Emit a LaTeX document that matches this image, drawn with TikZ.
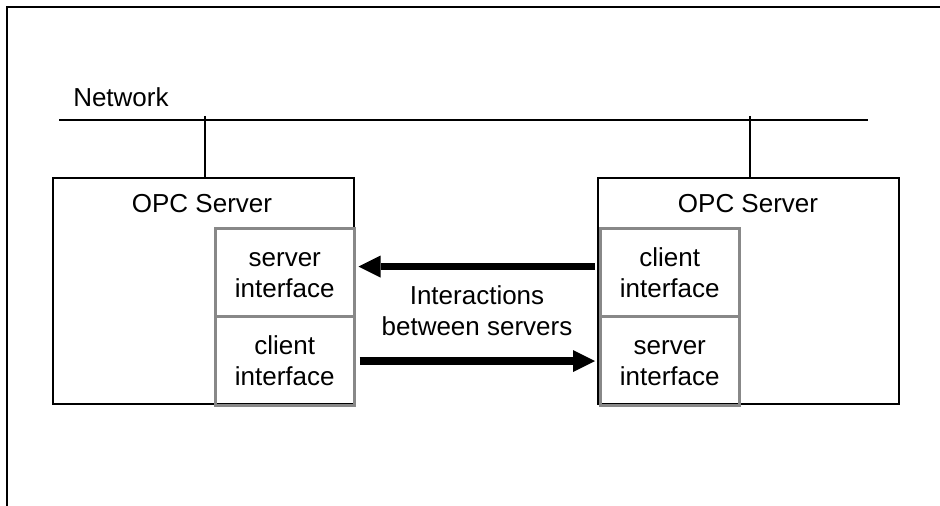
\documentclass[tikz,border=0pt]{standalone}
\usepackage{fontspec}
\setmainfont{Liberation Sans}
\usetikzlibrary{arrows.meta,calc}
\definecolor{ifgray}{RGB}{136,136,136}
\begin{document}
\begin{tikzpicture}[x=0.75pt,y=-0.75pt,
  frame/.style={line width=1.8pt},
  net/.style={line width=1.6pt},
  srv/.style={draw, line width=1.7pt, minimum width=225.75pt, minimum height=169.5pt, anchor=north west, inner sep=0pt},
  iface/.style={draw=ifgray, line width=1.9pt, minimum width=104.25pt, minimum height=66.5pt, anchor=north west, align=center, inner sep=0pt, font=\fontsize{19.5}{23.3}\selectfont},
  lbl/.style={font=\fontsize{19.5}{23.3}\selectfont, inner sep=0pt},
  bigarrow/.style={line width=5.5pt, -{Triangle[length=16.5pt,width=16.5pt,line width=0pt]}}
]
\useasboundingbox (0,0) rectangle (940,506);
% cropped outer frame
\coordinate (frBL) at (7,506);
\coordinate (frTL) at (7,7);
\coordinate (frTR) at (940,7);
\draw[frame] (frBL) -- (frTL) -- (frTR);

% network
\node[lbl, anchor=base west] (nettext) at (73,107) {Network};
\coordinate (netL) at (59,120);
\coordinate (netR) at (868,120);
\draw[net] (netL) -- (netR);

% servers
\node[srv] (srvL) at (52,177) {};
\node[srv] (srvR) at (597,177) {};
\coordinate (tapL) at (205,116);
\coordinate (tapR) at (750,116);
\draw[net] (tapL) -- (tapL |- srvL.north);
\draw[net] (tapR) -- (tapR |- srvR.north);
\node[lbl, anchor=base] (opcL) at (202,213) {OPC Server};
\node[lbl, anchor=base] (opcR) at (748,213) {OPC Server};

% interfaces
\node[iface] (lsi) at (214,227) {\vphantom{l}server\\interface};
\node[iface] (lci) at (214,315.5) {client\\interface};
\node[iface] (rci) at (599,227) {client\\interface};
\node[iface] (rsi) at (599,315.5) {\vphantom{l}server\\interface};

% interactions
\draw[bigarrow] ($(rci.west)+(-4,-6)$) -- ($(lsi.east)+(3,-6)$);
\draw[bigarrow] ($(lci.east)+(4,0)$) -- ($(rsi.west)+(-4,0)$);
\node[lbl, align=center] (inter) at (477,310.5) {Interactions\\between servers};
\end{tikzpicture}
\end{document}
